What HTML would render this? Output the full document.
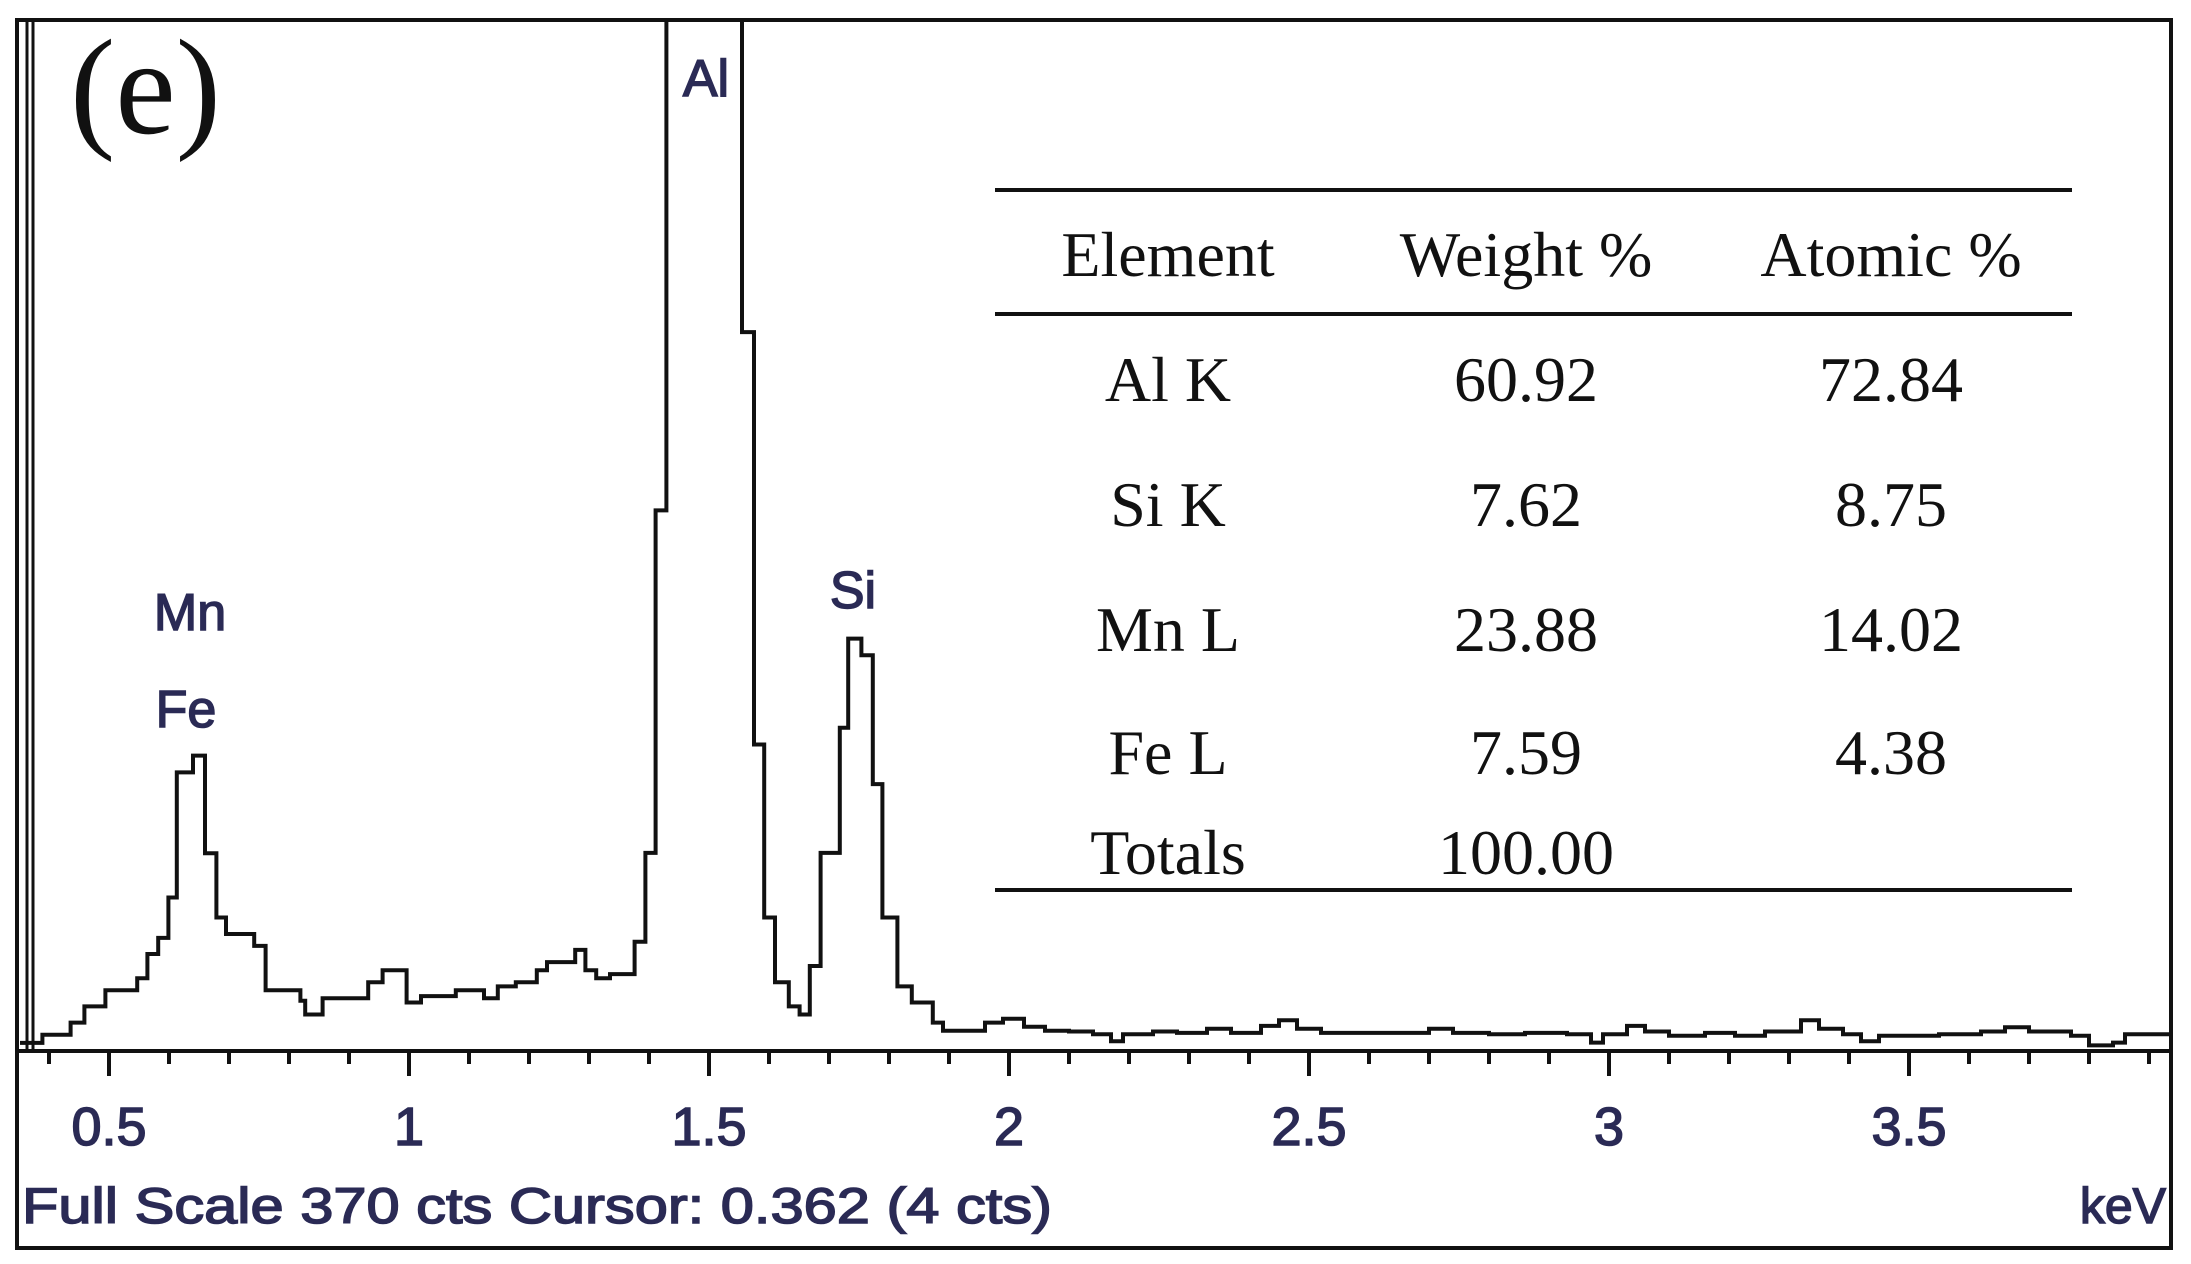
<!DOCTYPE html>
<html><head><meta charset="utf-8"><style>
html,body{margin:0;padding:0;background:#fff;}
svg{display:block;}
</style></head><body>
<svg id="chart" xmlns="http://www.w3.org/2000/svg" width="2191" height="1264" viewBox="0 0 2191 1264">
<rect x="0" y="0" width="2191" height="1264" fill="#fff"/>
<defs><clipPath id="plotclip"><rect x="20" y="21" width="2150" height="1030"/></clipPath></defs>
<g id="spectrum-layer" clip-path="url(#plotclip)"></g>
<g id="axis-layer"></g>
<rect x="17" y="20" width="2154" height="1228" fill="none" stroke="#111" stroke-width="4"/>
<line x1="27" y1="20" x2="27" y2="1051" stroke="#111" stroke-width="3"/>
<line x1="33" y1="20" x2="33" y2="1051" stroke="#111" stroke-width="3"/>
<text x="70" y="133" font-family="Liberation Serif, serif" font-size="136" fill="#111">(e)</text>
<g font-family="Liberation Sans, sans-serif" font-size="52" fill="#2a2a55" stroke="#2a2a55" stroke-width="1.5" text-anchor="middle">
<text x="706" y="96">Al</text>
<text x="853" y="608">Si</text>
<text x="190" y="630">Mn</text>
<text x="186" y="727">Fe</text>
</g>
<g font-family="Liberation Serif, serif" font-size="64" fill="#111" text-anchor="middle">
<line x1="995" y1="190" x2="2072" y2="190" stroke="#111" stroke-width="4"/>
<line x1="995" y1="314" x2="2072" y2="314" stroke="#111" stroke-width="4"/>
<line x1="995" y1="890" x2="2072" y2="890" stroke="#111" stroke-width="4"/>
<text x="1168" y="276">Element</text>
<text x="1526" y="276">Weight %</text>
<text x="1891" y="276">Atomic %</text>
<text x="1168" y="401">Al K</text>
<text x="1526" y="401">60.92</text>
<text x="1891" y="401">72.84</text>
<text x="1168" y="526">Si K</text>
<text x="1526" y="526">7.62</text>
<text x="1891" y="526">8.75</text>
<text x="1168" y="651">Mn L</text>
<text x="1526" y="651">23.88</text>
<text x="1891" y="651">14.02</text>
<text x="1168" y="774">Fe L</text>
<text x="1526" y="774">7.59</text>
<text x="1891" y="774">4.38</text>
<text x="1168" y="874">Totals</text>
<text x="1526" y="874">100.00</text>
</g>
<text x="22" y="1223" font-family="Liberation Sans, sans-serif" font-size="50" fill="#2a2a55" stroke="#2a2a55" stroke-width="1.5" textLength="1030" lengthAdjust="spacingAndGlyphs">Full Scale 370 cts Cursor: 0.362  (4 cts)</text>
<text x="2166" y="1223" font-family="Liberation Sans, sans-serif" font-size="50" fill="#2a2a55" stroke="#2a2a55" stroke-width="1.5" text-anchor="end">keV</text>
</svg>
<script>
const energies = [0.348,0.389,0.436,0.459,0.494,0.547,0.564,0.582,0.599,0.613,0.640,0.660,0.679,0.695,0.742,0.761,0.819,0.827,0.856,0.932,0.956,0.996,1.020,1.078,1.125,1.148,1.178,1.213,1.230,1.277,1.294,1.312,1.335,1.376,1.394,1.411,1.429,1.555,1.575,1.592,1.610,1.633,1.651,1.668,1.686,1.718,1.732,1.754,1.773,1.789,1.814,1.838,1.873,1.890,1.960,1.990,2.025,2.060,2.10,2.14,2.17,2.19,2.24,2.28,2.33,2.37,2.42,2.45,2.48,2.52,2.58,2.64,2.70,2.74,2.80,2.86,2.93,2.97,2.99,3.03,3.06,3.10,3.16,3.21,3.26,3.32,3.35,3.39,3.42,3.45,3.55,3.62,3.66,3.70,3.77,3.80,3.84,3.86,3.92];
const counts = [2.9,5.8,10.2,16,21.8,26.1,34.8,40.6,55.1,100,106,71,47.9,42,37.7,21.8,18,13.1,18.9,24.7,29,17.4,19.7,21.8,18.9,23.2,24.7,29,31.9,36.3,29,26.1,27.6,39.2,71.1,194,500,258,110,47.9,24.7,16,13.1,30.5,71.1,116,148,142,95.8,47.9,23.2,17.4,10.2,7.3,10.2,11.6,8.7,7.3,7,6,3.5,6,7,6.5,8,6.5,9,11,8,6.5,6.5,6.5,8,6.5,6,6.5,6,3,6,9,7,5.5,6.5,5.5,7,11,8,6,3.5,5.5,6,7,8.5,7,5.5,2,3,6,6];
const majorTicks = [0.5,1,1.5,2,2.5,3,3.5];
const tickLabels = ["0.5","1","1.5","2","2.5","3","3.5"];
const minorTicks = [0.4,0.6,0.7,0.8,0.9,1.1,1.2,1.3,1.4,1.6,1.7,1.8,1.9,2.1,2.2,2.3,2.4,2.6,2.7,2.8,2.9,3.1,3.2,3.3,3.4,3.6,3.7,3.8,3.9];

const NS = "http://www.w3.org/2000/svg";
const AXIS_Y = 1051, TOP_Y = 20, FULL = 370;
function xs(e){ return 109 + (e - 0.5) * 600; }
function ys(c){ return AXIS_Y - c * (AXIS_Y - TOP_Y) / FULL; }

const spec = document.getElementById('spectrum-layer');
let d = "";
for (let i = 0; i < energies.length; i++) {
  const x0 = xs(energies[i]);
  const x1 = i + 1 < energies.length ? xs(energies[i+1]) : 2170;
  const y = ys(counts[i]);
  d += (i === 0 ? "M" : "L") + x0.toFixed(1) + "," + y.toFixed(1) + "L" + x1.toFixed(1) + "," + y.toFixed(1);
}
const path = document.createElementNS(NS, 'path');
path.setAttribute('d', d);
path.setAttribute('fill', 'none');
path.setAttribute('stroke', '#111');
path.setAttribute('stroke-width', '4');


spec.appendChild(path);

const ax = document.getElementById('axis-layer');
const base = document.createElementNS(NS, 'line');
base.setAttribute('x1', 17); base.setAttribute('x2', 2171);
base.setAttribute('y1', AXIS_Y); base.setAttribute('y2', AXIS_Y);
base.setAttribute('stroke', '#111'); base.setAttribute('stroke-width', '4');


ax.appendChild(base);
minorTicks.forEach(e => {
  const t = document.createElementNS(NS, 'line');
  t.setAttribute('x1', xs(e)); t.setAttribute('x2', xs(e));
  t.setAttribute('y1', AXIS_Y); t.setAttribute('y2', AXIS_Y + 13);
  t.setAttribute('stroke', '#111'); t.setAttribute('stroke-width', '4');
  
  
  ax.appendChild(t);
});
majorTicks.forEach((e, i) => {
  const t = document.createElementNS(NS, 'line');
  t.setAttribute('x1', xs(e)); t.setAttribute('x2', xs(e));
  t.setAttribute('y1', AXIS_Y); t.setAttribute('y2', AXIS_Y + 25);
  t.setAttribute('stroke', '#111'); t.setAttribute('stroke-width', '4');
  
  
  ax.appendChild(t);
  const lb = document.createElementNS(NS, 'text');
  lb.setAttribute('x', xs(e)); lb.setAttribute('y', 1145);
  lb.setAttribute('text-anchor', 'middle');
  lb.setAttribute('font-family', 'Liberation Sans, sans-serif');
  lb.setAttribute('font-size', '54');
  lb.setAttribute('fill', '#2a2a55');
  lb.setAttribute('stroke', '#2a2a55');
  lb.setAttribute('stroke-width', '1.5');
  
  
  lb.textContent = tickLabels[i];
  ax.appendChild(lb);
});
</script>
</body></html>
